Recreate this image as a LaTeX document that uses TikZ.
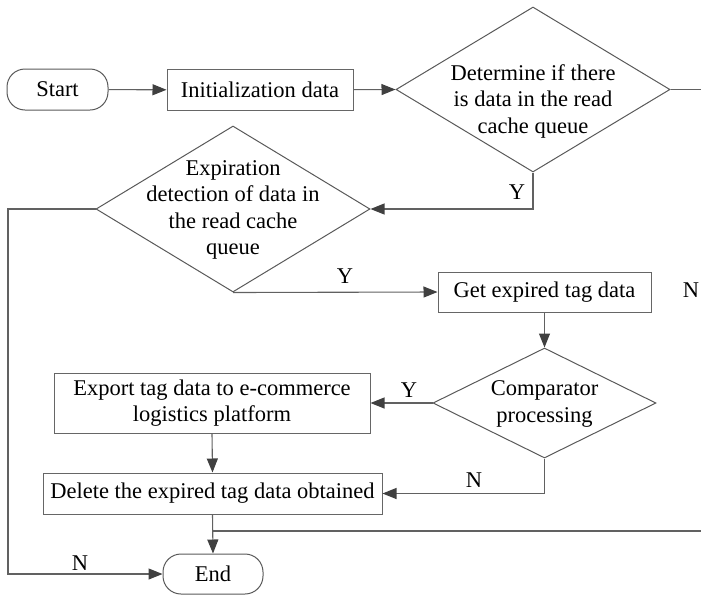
\documentclass[tikz,border=0pt]{standalone}
\usepackage{fontspec}
\setmainfont{Liberation Serif}
\usetikzlibrary{arrows.meta,shapes.geometric}

\tikzset{
  every node/.style={font=\fontsize{22.5}{26.5}\selectfont, text=black},
  line/.style={draw=black!62, line width=1.1pt},
  arr/.style={line, -{Triangle[length=14pt,width=11pt,fill=black!75,color=black!75]}},
  terminal/.style={draw=black!65, line width=1pt, rounded corners=18pt, inner sep=0pt},
  procbox/.style={draw=black!60, line width=1pt, inner sep=0pt, align=center},
  decision/.style={draw=black!65, line width=1pt, diamond, inner sep=0pt},
  btext/.style={align=center, inner sep=0pt},
  tag/.style={inner sep=0pt}
}

\begin{document}
\begin{tikzpicture}[x=1pt, y=-1pt]
  \useasboundingbox (0,0) rectangle (701,595);
  \clip (0,0) rectangle (701,595);

  % terminals and process boxes
  \node[terminal, minimum width=101pt, minimum height=41pt] (start) at (57.5,89.5) {Start};
  \node[procbox, minimum width=186pt, minimum height=41pt] (init) at (260,90) {Initialization data};
  \node[procbox, minimum width=213pt, minimum height=40pt] (get) at (544.5,292) {Get expired tag data};
  \node[procbox, minimum width=316pt, minimum height=60pt] (export) at (212,403)
       {Export tag data to e-commerce\\logistics platform};
  \node[procbox, minimum width=339pt, minimum height=41pt] (delete) at (212.5,493.5)
       {Delete the expired tag data obtained};
  \node[terminal, minimum width=100pt, minimum height=40pt] (end) at (213,574) {End};

  % decisions
  \node[decision, minimum width=274pt, minimum height=165pt] (d1) at (533,89.5) {};
  \node[btext] at (533,101) {Determine if there\\is data in the read\\cache queue};
  \node[decision, minimum width=274pt, minimum height=166pt] (d2) at (233,209) {};
  \node[btext] at (233,210) {Expiration\\detection of data in\\the read cache\\queue};
  \node[decision, minimum width=223pt, minimum height=110pt] (comp) at (544.5,403) {};
  \node[btext] at (544.5,404) {Comparator\\processing};

  % free ends leaving the picture on the right
  \coordinate (d1out) at (701,89.5);
  \coordinate (retin) at (701,531);
  \coordinate (joinpt) at (212.5,531);

  % connectors
  \draw[arr] (start) -- (init);
  \draw[arr] (init) -- (d1.west);
  \draw[line] (d1.east) -- (d1out);
  \draw[arr] (d1.south) |- (d2.east);
  \draw[arr] (d2.west) -- (8,209) |- (end.west);
  \draw[arr] (d2.south) -- (get.west);
  \draw[arr] (get.south) -- (comp.north);
  \draw[arr] (comp.west) -- (export.east);
  \draw[arr] (export.south) -- (delete.north);
  \draw[arr] (comp.south) |- (delete.east);
  \draw[arr] (delete.south) -- (end.north);
  \draw[line] (retin) -- (joinpt);

  % branch labels
  \node[tag] at (517,192) {Y};
  \node[tag] at (80,563) {N};
  \node[tag] at (345,276) {Y};
  \node[tag] at (409,390) {Y};
  \node[tag] at (474,480) {N};
  \node[tag] at (691,290) {N};
\end{tikzpicture}
\end{document}
